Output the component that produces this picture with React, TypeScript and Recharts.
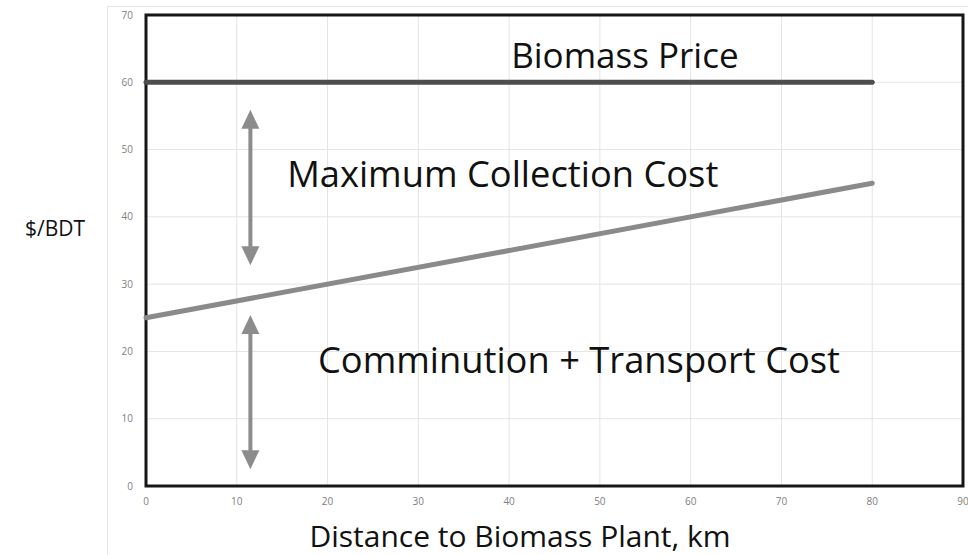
import {
  ComposedChart,
  Line,
  XAxis,
  YAxis,
  CartesianGrid,
  ReferenceArea,
  ReferenceLine,
  ReferenceDot,
} from 'recharts';

const distanceKm = [0, 80];
const biomassPrice = [60, 60];
const commTransportCost = [25, 45];

const xTicks = [0, 10, 20, 30, 40, 50, 60, 70, 80, 90];
const yTicks = [0, 10, 20, 30, 40, 50, 60, 70];

// double-headed arrows (x, top tip, bottom tip) in chart units
const arrowX = [11.5, 11.5];
const arrowTop = [55.9, 25.4];
const arrowBottom = [32.8, 2.5];

const noteText = ['Biomass Price', 'Maximum Collection Cost', 'Comminution + Transport Cost'];
const noteX = [52.75, 39.3, 47.7];
const noteY = [64, 46.4, 18.7];

const data = distanceKm.map((d, i) => ({
  d,
  price: biomassPrice[i],
  cost: commTransportCost[i],
}));

const FONT = '"Open Sans", "Noto Sans", sans-serif';
const ARROW = '#8c8c8c';

function DoubleArrow(props: any) {
  const { x1, y1, x2, y2 } = props;
  const x = (x1 + x2) / 2;
  const top = Math.min(y1, y2);
  const bottom = Math.max(y1, y2);
  const hw = 9;
  const hh = 19;
  return (
    <g>
      <line x1={x} y1={top + hh - 2} x2={x} y2={bottom - hh + 2} stroke={ARROW} strokeWidth={4} />
      <polygon points={`${x},${top} ${x - hw},${top + hh} ${x + hw},${top + hh}`} fill={ARROW} />
      <polygon points={`${x},${bottom} ${x - hw},${bottom - hh} ${x + hw},${bottom - hh}`} fill={ARROW} />
    </g>
  );
}

export default function App() {
  return (
    <div style={{ position: 'absolute', left: 0, top: 0, width: 968, height: 555, background: '#fff' }}>
      <div
        style={{
          position: 'absolute',
          left: 107,
          top: 6,
          width: 861,
          height: 549,
          borderLeft: '1px solid #e6e6e6',
          borderTop: '1px solid #e6e6e6',
        }}
      />
      <ComposedChart
        width={968}
        height={555}
        data={data}
        margin={{ top: 15, right: 5, left: 0, bottom: 0 }}
        style={{ position: 'absolute', left: 0, top: 0 }}
      >
        <CartesianGrid stroke="#e4e4e4" strokeWidth={1} />
        <XAxis
          dataKey="d"
          type="number"
          domain={[0, 90]}
          ticks={xTicks}
          height={69}
          axisLine={false}
          tickLine={false}
          tickSize={0}
          tickMargin={12}
          tick={{ fill: '#808080', fontSize: 10, fontFamily: FONT }}
          label={() => (
            <text x={520} y={547} textAnchor="middle" fill="#111" fontSize={30} fontFamily={FONT}>
              Distance to Biomass Plant, km
            </text>
          )}
        />
        <YAxis
          type="number"
          domain={[0, 70]}
          ticks={yTicks}
          width={146}
          axisLine={false}
          tickLine={false}
          tickSize={0}
          tickMargin={13}
          tick={{ fill: '#808080', fontSize: 10, fontFamily: FONT }}
          label={() => (
            <text x={25} y={236} fill="#111" fontSize={21} fontFamily={FONT}>
              $/BDT
            </text>
          )}
        />
        <ReferenceArea x1={0} x2={90} y1={0} y2={70} fill="none" stroke="#161616" strokeWidth={3} />
        <Line
          dataKey="price"
          stroke="#4d4d4d"
          strokeWidth={5}
          strokeLinecap="round"
          dot={false}
          isAnimationActive={false}
        />
        <Line
          dataKey="cost"
          stroke="#8a8a8a"
          strokeWidth={5}
          strokeLinecap="round"
          dot={false}
          isAnimationActive={false}
        />
        {arrowX.map((x, i) => (
          <ReferenceLine
            key={'a' + i}
            segment={[
              { x, y: arrowTop[i] },
              { x, y: arrowBottom[i] },
            ]}
            shape={DoubleArrow}
          />
        ))}
        {noteText.map((t, i) => (
          <ReferenceDot
            key={'n' + i}
            x={noteX[i]}
            y={noteY[i]}
            r={0}
            fill="none"
            stroke="none"
            label={{
              value: t,
              position: 'center',
              style: { fill: '#111', fontSize: i === 0 ? 35 : 36.3, fontFamily: FONT },
            }}
          />
        ))}
      </ComposedChart>
    </div>
  );
}
